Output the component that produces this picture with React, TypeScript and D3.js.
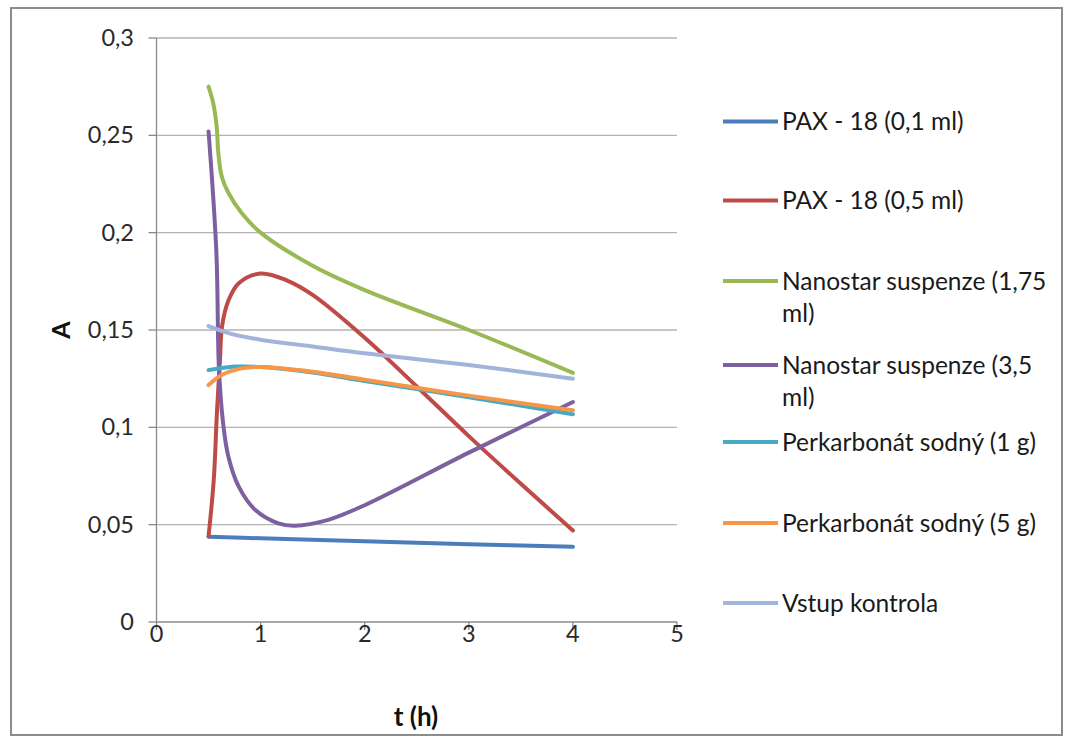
import React from "react";
import * as d3 from "d3";

type Pt = [number, number];

const seriesNames = [
  "PAX - 18 (0,1 ml)",
  "PAX - 18 (0,5 ml)",
  "Nanostar suspenze (1,75 ml)",
  "Nanostar suspenze (3,5 ml)",
  "Perkarbonát sodný (1 g)",
  "Perkarbonát sodný (5 g)",
  "Vstup kontrola",
];

const legendLines: string[][] = [
  ["PAX - 18 (0,1 ml)"],
  ["PAX - 18 (0,5 ml)"],
  ["Nanostar suspenze (1,75", "ml)"],
  ["Nanostar suspenze (3,5", "ml)"],
  ["Perkarbonát sodný (1 g)"],
  ["Perkarbonát sodný (5 g)"],
  ["Vstup kontrola"],
];

const colors = ["#4A7EBB", "#BE4B48", "#98B954", "#7D60A0", "#46AAC5", "#F79646", "#A2B4DB"];

const pax01: Pt[] = [[0.5, 0.0438], [1, 0.043], [2, 0.0415], [3, 0.04], [4, 0.0386]];
const pax05: Pt[] = [
  [0.5, 0.044], [0.55, 0.073], [0.58, 0.107], [0.61, 0.135], [0.63, 0.152], [0.69, 0.165],
  [0.79, 0.174], [1, 0.179], [1.25, 0.1755], [1.5, 0.168], [2, 0.146], [2.5, 0.121],
  [3, 0.0955], [3.5, 0.071], [4, 0.047],
];
const nano175: Pt[] = [
  [0.5, 0.275], [0.545, 0.2665], [0.578, 0.2545], [0.594, 0.241], [0.626, 0.229], [0.69, 0.2205],
  [0.82, 0.21], [1, 0.2], [1.5, 0.183], [2, 0.1705], [3, 0.15], [4, 0.128],
];
const nano35: Pt[] = [
  [0.5, 0.252], [0.575, 0.19], [0.6, 0.13], [0.64, 0.102], [0.69, 0.085], [0.79, 0.0695],
  [0.95, 0.0575], [1.17, 0.0507], [1.33, 0.0495], [1.65, 0.0525], [2, 0.06], [3, 0.087], [4, 0.113],
];
const perk1: Pt[] = [[0.5, 0.1294], [0.75, 0.1312], [1, 0.131], [1.5, 0.1282], [2, 0.1238], [3, 0.1155], [4, 0.1067]];
const perk5: Pt[] = [[0.5, 0.1217], [0.63, 0.127], [0.82, 0.1303], [1, 0.131], [1.5, 0.1286], [2, 0.1245], [3, 0.1163], [4, 0.1088]];
const kontrola: Pt[] = [[0.5, 0.152], [0.7, 0.1483], [1, 0.145], [1.5, 0.1415], [2, 0.138], [3, 0.132], [4, 0.125]];

const allSeries = [pax01, pax05, nano175, nano35, perk1, perk5, kontrola];

const xTicks = [0, 1, 2, 3, 4, 5];
const yTicks = [0, 0.05, 0.1, 0.15, 0.2, 0.25, 0.3];
const yTickLabels = ["0", "0,05", "0,1", "0,15", "0,2", "0,25", "0,3"];
const xTitle = "t (h)";
const yTitle = "A";

const FONT = "Lato, 'Open Sans', sans-serif";

export default function App() {
  const x = d3.scaleLinear().domain([0, 5]).range([156.5, 677]);
  const y = d3.scaleLinear().domain([0, 0.3]).range([622, 38]);
  const line = d3
    .line<Pt>()
    .x((d) => x(d[0]))
    .y((d) => y(d[1]))
    .curve(d3.curveCatmullRom.alpha(0.5));

  const legendY = [121.5, 200.5, 281, 365, 442, 523, 603];

  return (
    <svg
      width={1069}
      height={741}
      style={{ position: "absolute", left: 0, top: 0, background: "#fff" }}
    >
      <rect x={0} y={0} width={1069} height={741} fill="#fff" />
      <rect x={11} y={8} width={1051} height={727} fill="#fff" stroke="#8c8c8c" strokeWidth={2} />
      {yTicks.map((t, i) =>
        i === 0 ? null : (
          <line key={"g" + i} x1={x(0)} x2={x(5)} y1={y(t)} y2={y(t)} stroke="#b3b3b3" strokeWidth={1.3} />
        )
      )}
      <line x1={x(0)} x2={x(0)} y1={y(0.3)} y2={y(0)} stroke="#8a8a8a" strokeWidth={1.3} />
      <line x1={x(0)} x2={x(5)} y1={y(0)} y2={y(0)} stroke="#8a8a8a" strokeWidth={1.3} />
      {yTicks.map((t, i) => (
        <line key={"yt" + i} x1={x(0) - 8} x2={x(0)} y1={y(t)} y2={y(t)} stroke="#8a8a8a" strokeWidth={1.3} />
      ))}
      {xTicks.map((t, i) => (
        <line key={"xt" + i} x1={x(t)} x2={x(t)} y1={y(0)} y2={y(0) + 8} stroke="#8a8a8a" strokeWidth={1.3} />
      ))}
      {yTicks.map((t, i) => (
        <text
          key={"yl" + i}
          x={134}
          y={y(t) + 8}
          textAnchor="end"
          fontFamily={FONT}
          fontSize={23.5}
          fill="#2a2a2a"
        >
          {yTickLabels[i]}
        </text>
      ))}
      {xTicks.map((t, i) => (
        <text
          key={"xl" + i}
          x={x(t)}
          y={642}
          textAnchor="middle"
          fontFamily={FONT}
          fontSize={23.5}
          fill="#2a2a2a"
        >
          {String(t)}
        </text>
      ))}
      <text x={416} y={726} textAnchor="middle" fontFamily={FONT} fontWeight="bold" fontSize={26} fill="#111">
        {xTitle}
      </text>
      <text
        transform={`translate(70,330) rotate(-90)`}
        textAnchor="middle"
        fontFamily={FONT}
        fontWeight="bold"
        fontSize={25}
        fill="#111"
      >
        {yTitle}
      </text>
      {allSeries.map((s, i) => (
        <path
          key={"s" + i}
          d={line(s) || ""}
          fill="none"
          stroke={colors[i]}
          strokeWidth={4}
          strokeLinecap="round"
          strokeLinejoin="round"
        />
      ))}
      {seriesNames.map((name, i) => (
        <g key={"lg" + i}>
          <line x1={723} x2={778} y1={legendY[i]} y2={legendY[i]} stroke={colors[i]} strokeWidth={4} />
          {legendLines[i].map((ln, j) => (
            <text
              key={j}
              x={782}
              y={legendY[i] + 8.5 + j * 32}
              fontFamily={FONT}
              fontSize={24.5}
              fill="#1a1a1a"
            >
              {ln}
            </text>
          ))}
        </g>
      ))}
    </svg>
  );
}
